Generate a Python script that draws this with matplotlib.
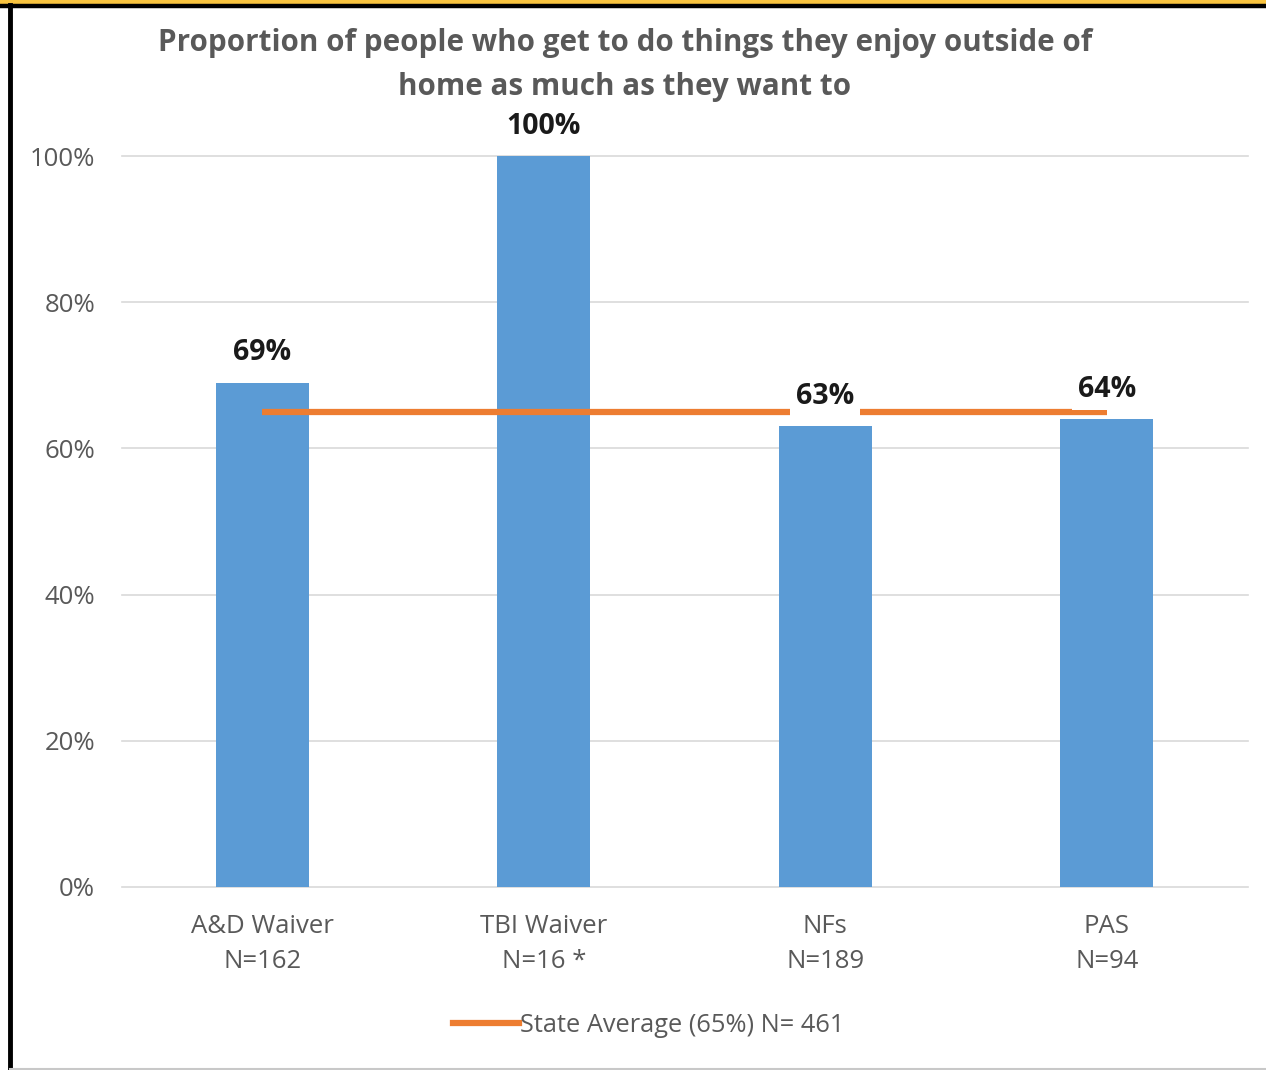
import matplotlib
matplotlib.use("Agg")
import matplotlib.pyplot as plt
from matplotlib.lines import Line2D
from matplotlib.patches import Rectangle

categories = ["A&D Waiver\nN=162", "TBI Waiver\nN=16 *", "NFs\nN=189", "PAS\nN=94"]
values = [69, 100, 63, 64]
state_avg = 65
yticks = [0, 20, 40, 60, 80, 100]
title = "Proportion of people who get to do things they enjoy outside of\nhome as much as they want to"
legend_label = "State Average (65%) N= 461"

BAR = "#5b9bd5"
ORANGE = "#ed7d31"
GREY = "#595959"
FONT = ["Open Sans", "DejaVu Sans"]

W, H = 1266, 1070
fig = plt.figure(figsize=(W / 100, H / 100), dpi=100)
fig.patch.set_facecolor("white")

# frame decorations (slide artifacts)
fig.add_artist(Rectangle((0, 1 - 4 / H), 1, 4 / H, transform=fig.transFigure,
                         color="#f9c440", lw=0, zorder=0))
fig.add_artist(Line2D([0, 1], [1 - 6 / H, 1 - 6 / H], transform=fig.transFigure,
                      color="black", lw=3.2))
fig.add_artist(Line2D([10 / W, 10 / W], [0, 1 - 5 / H], transform=fig.transFigure,
                      color="black", lw=3.5))
fig.add_artist(Line2D([10 / W, 1], [1.5 / H, 1.5 / H], transform=fig.transFigure,
                      color="#c8c8c8", lw=1.5))

ax = fig.add_axes([121.5 / W, 183 / H, 1126 / W, 731 / H])
x = list(range(len(categories)))
ax.bar(x, values, width=0.33, color=BAR, zorder=2)
ax.plot(x, [state_avg] * len(x), color=ORANGE, lw=4.5, solid_capstyle="butt", zorder=3)

for xi, v in zip(x, values):
    ax.annotate(f"{v}%", (xi, v), xytext=(0, 11), textcoords="offset points",
                ha="center", va="bottom", fontsize=20.5, fontweight="bold",
                color="#1a1a1a", family=FONT, zorder=4,
                bbox=dict(facecolor="white", edgecolor="none", pad=4) if v < state_avg else None)

ax.set_xlim(-0.5, len(categories) - 0.5)
ax.set_ylim(0, 100)
ax.set_yticks(yticks)
ax.set_yticklabels([f"{t}%" for t in yticks], family=FONT, fontsize=18.5, color=GREY)
ax.set_xticks(x)
ax.set_xticklabels(categories, family=FONT, fontsize=18.5, color=GREY, linespacing=1.5)
ax.tick_params(axis="both", length=0)
ax.tick_params(axis="y", pad=19)
ax.tick_params(axis="x", pad=19.5)
for s in ax.spines.values():
    s.set_visible(False)
ax.grid(axis="y", color="#d9d9d9", lw=1.2, zorder=0)
ax.set_axisbelow(True)
for gl in ax.get_ygridlines():
    gl.set_clip_on(False)

fig.text(625 / W, 1 - 65 / H, title, ha="center", va="center", fontsize=21.3,
         fontweight="bold", color=GREY, family=FONT, linespacing=1.58)

leg = fig.legend(handles=[Line2D([], [], color=ORANGE, lw=4.5)], labels=[legend_label],
                 loc="center", bbox_to_anchor=(649 / W, 1 - 1025 / H), frameon=False,
                 prop={"family": FONT, "size": 18.3}, handlelength=2.6, handletextpad=0.05)
for t in leg.get_texts():
    t.set_color(GREY)

fig.savefig("out.png", dpi=100)
